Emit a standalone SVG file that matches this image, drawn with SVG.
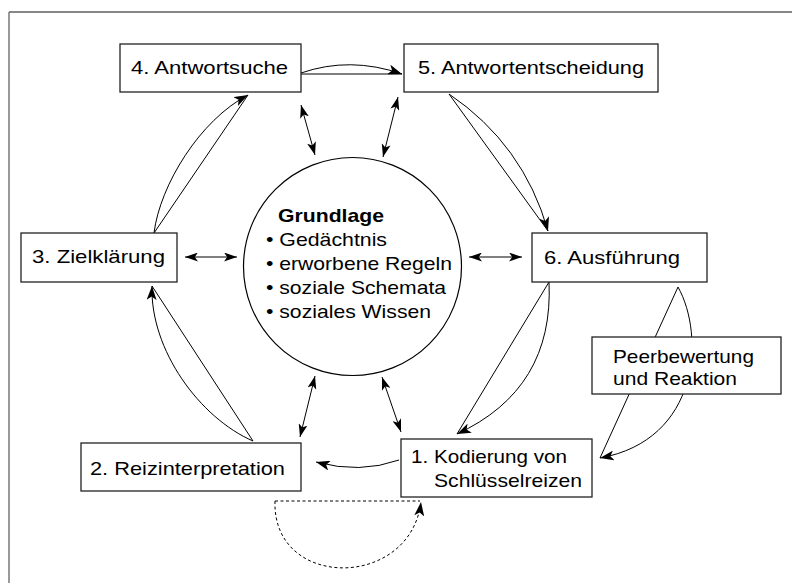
<svg xmlns="http://www.w3.org/2000/svg" width="792" height="583" viewBox="0 0 792 583">
  <style>
    .box { fill: #fff; stroke: #222; stroke-width: 1.3; }
    .circ { fill: #fff; stroke: #000; stroke-width: 1.2; }
    .lbl { font-family: "Liberation Sans", Arial, Helvetica, sans-serif; font-size: 19px; fill: #000; }
    .bold { font-weight: bold; }
    .con { fill: none; stroke: #000; stroke-width: 1; }
    .dash { stroke-dasharray: 3 2.5; }
  </style>
  <defs>
    <marker id="ah" viewBox="0 0 14 10" refX="14" refY="5" markerWidth="14" markerHeight="10" markerUnits="userSpaceOnUse" orient="auto-start-reverse">
      <path d="M0,0 L14,5 L0,10 L3.5,5 z" fill="#000" stroke="none"/>
    </marker>
    <marker id="ah2" viewBox="0 0 13 9" refX="13" refY="4.5" markerWidth="13" markerHeight="9" markerUnits="userSpaceOnUse" orient="auto-start-reverse">
      <path d="M0,0 L13,4.5 L0,9 L3.2,4.5 z" fill="#000" stroke="none"/>
    </marker>
  </defs>

  <g id="frame">
    <line x1="9" y1="12" x2="792" y2="12" stroke="#111" stroke-width="1.2"/>
    <line x1="9" y1="12" x2="9" y2="583" stroke="#777" stroke-width="1.5"/>
  </g>

  <g id="connectors">
    <!-- 4 -> 5 -->
    <line class="con" x1="301" y1="74" x2="402" y2="74"/>
    <path class="con" d="M301,73 Q350,56 402,74" marker-end="url(#ah)"/>
    <!-- 5 -> 6 -->
    <line class="con" x1="449" y1="94" x2="548" y2="231"/>
    <path class="con" d="M449,94 Q523.5,144.5 548,231" marker-end="url(#ah)"/>
    <!-- 6 -> 1 -->
    <line class="con" x1="549" y1="282" x2="457" y2="434"/>
    <path class="con" d="M549,282 Q554,389 457,434" marker-end="url(#ah)"/>
    <!-- 6 -> Peer -> 1 -->
    <line class="con" x1="678" y1="287" x2="600" y2="458"/>
    <path class="con" d="M678,287 C705,335 700,440 600,458" marker-end="url(#ah)"/>
    <!-- 1 -> 2 -->
    <path class="con" d="M399,460 Q360,474 316,462" marker-end="url(#ah)"/>
    <!-- 2 -> 3 -->
    <line class="con" x1="253" y1="441" x2="152" y2="286"/>
    <path class="con" d="M253,441 C200,418 150,350 152,286" marker-end="url(#ah)"/>
    <!-- 3 -> 4 -->
    <line class="con" x1="154" y1="233" x2="248" y2="95"/>
    <path class="con" d="M154,233 C160,185 200,120 248,95" marker-end="url(#ah)"/>
    <!-- dashed loop 2 -> 1 -->
    <line class="con dash" x1="275" y1="501" x2="420" y2="501"/>
    <path class="con dash" d="M275,501 C272,590 410,590 421,502" marker-end="url(#ah)"/>
    <!-- double arrows with Grundlage -->
    <line class="con" x1="301" y1="105" x2="315" y2="155" marker-start="url(#ah2)" marker-end="url(#ah2)"/>
    <line class="con" x1="398" y1="97" x2="383" y2="157" marker-start="url(#ah2)" marker-end="url(#ah2)"/>
    <line class="con" x1="185" y1="257" x2="237" y2="257" marker-start="url(#ah2)" marker-end="url(#ah2)"/>
    <line class="con" x1="469" y1="257" x2="522" y2="257" marker-start="url(#ah2)" marker-end="url(#ah2)"/>
    <line class="con" x1="315" y1="376" x2="300" y2="437" marker-start="url(#ah2)" marker-end="url(#ah2)"/>
    <line class="con" x1="382" y1="377" x2="401" y2="432" marker-start="url(#ah2)" marker-end="url(#ah2)"/>
  </g>

  <g id="node4">
    <rect class="box" x="120" y="44" width="181" height="48"/>
    <text class="lbl" x="131" y="74" textLength="157" lengthAdjust="spacingAndGlyphs">4. Antwortsuche</text>
  </g>
  <g id="node5">
    <rect class="box" x="404" y="44" width="254" height="48"/>
    <text class="lbl" x="418" y="74" textLength="226" lengthAdjust="spacingAndGlyphs">5. Antwortentscheidung</text>
  </g>
  <g id="node3">
    <rect class="box" x="21" y="233" width="156" height="49"/>
    <text class="lbl" x="32" y="263" textLength="133" lengthAdjust="spacingAndGlyphs">3. Zielklärung</text>
  </g>
  <g id="node6">
    <rect class="box" x="532" y="233" width="175" height="49"/>
    <text class="lbl" x="544" y="264" textLength="136" lengthAdjust="spacingAndGlyphs">6. Ausführung</text>
  </g>
  <g id="node2">
    <rect class="box" x="81" y="443" width="220" height="48"/>
    <text class="lbl" x="90" y="475" textLength="195" lengthAdjust="spacingAndGlyphs">2. Reizinterpretation</text>
  </g>
  <g id="node1">
    <rect class="box" x="401" y="439" width="191" height="58"/>
    <text class="lbl" x="411" y="463" textLength="156" lengthAdjust="spacingAndGlyphs">1. Kodierung von</text>
    <text class="lbl" x="434" y="487" textLength="148" lengthAdjust="spacingAndGlyphs">Schlüsselreizen</text>
  </g>
  <g id="peer">
    <rect class="box" x="592" y="337" width="189" height="57"/>
    <text class="lbl" x="613" y="363" textLength="141" lengthAdjust="spacingAndGlyphs">Peerbewertung</text>
    <text class="lbl" x="613" y="385" textLength="124" lengthAdjust="spacingAndGlyphs">und Reaktion</text>
  </g>
  <g id="grundlage">
    <circle class="circ" cx="352.5" cy="266.5" r="109"/>
    <text class="lbl bold" x="278" y="222" textLength="106" lengthAdjust="spacingAndGlyphs">Grundlage</text>
    <text class="lbl" x="266" y="246" textLength="121" lengthAdjust="spacingAndGlyphs">• Gedächtnis</text>
    <text class="lbl" x="266" y="270" textLength="186" lengthAdjust="spacingAndGlyphs">• erworbene Regeln</text>
    <text class="lbl" x="266" y="294" textLength="180" lengthAdjust="spacingAndGlyphs">• soziale Schemata</text>
    <text class="lbl" x="266" y="318" textLength="165" lengthAdjust="spacingAndGlyphs">• soziales Wissen</text>
  </g>
</svg>
